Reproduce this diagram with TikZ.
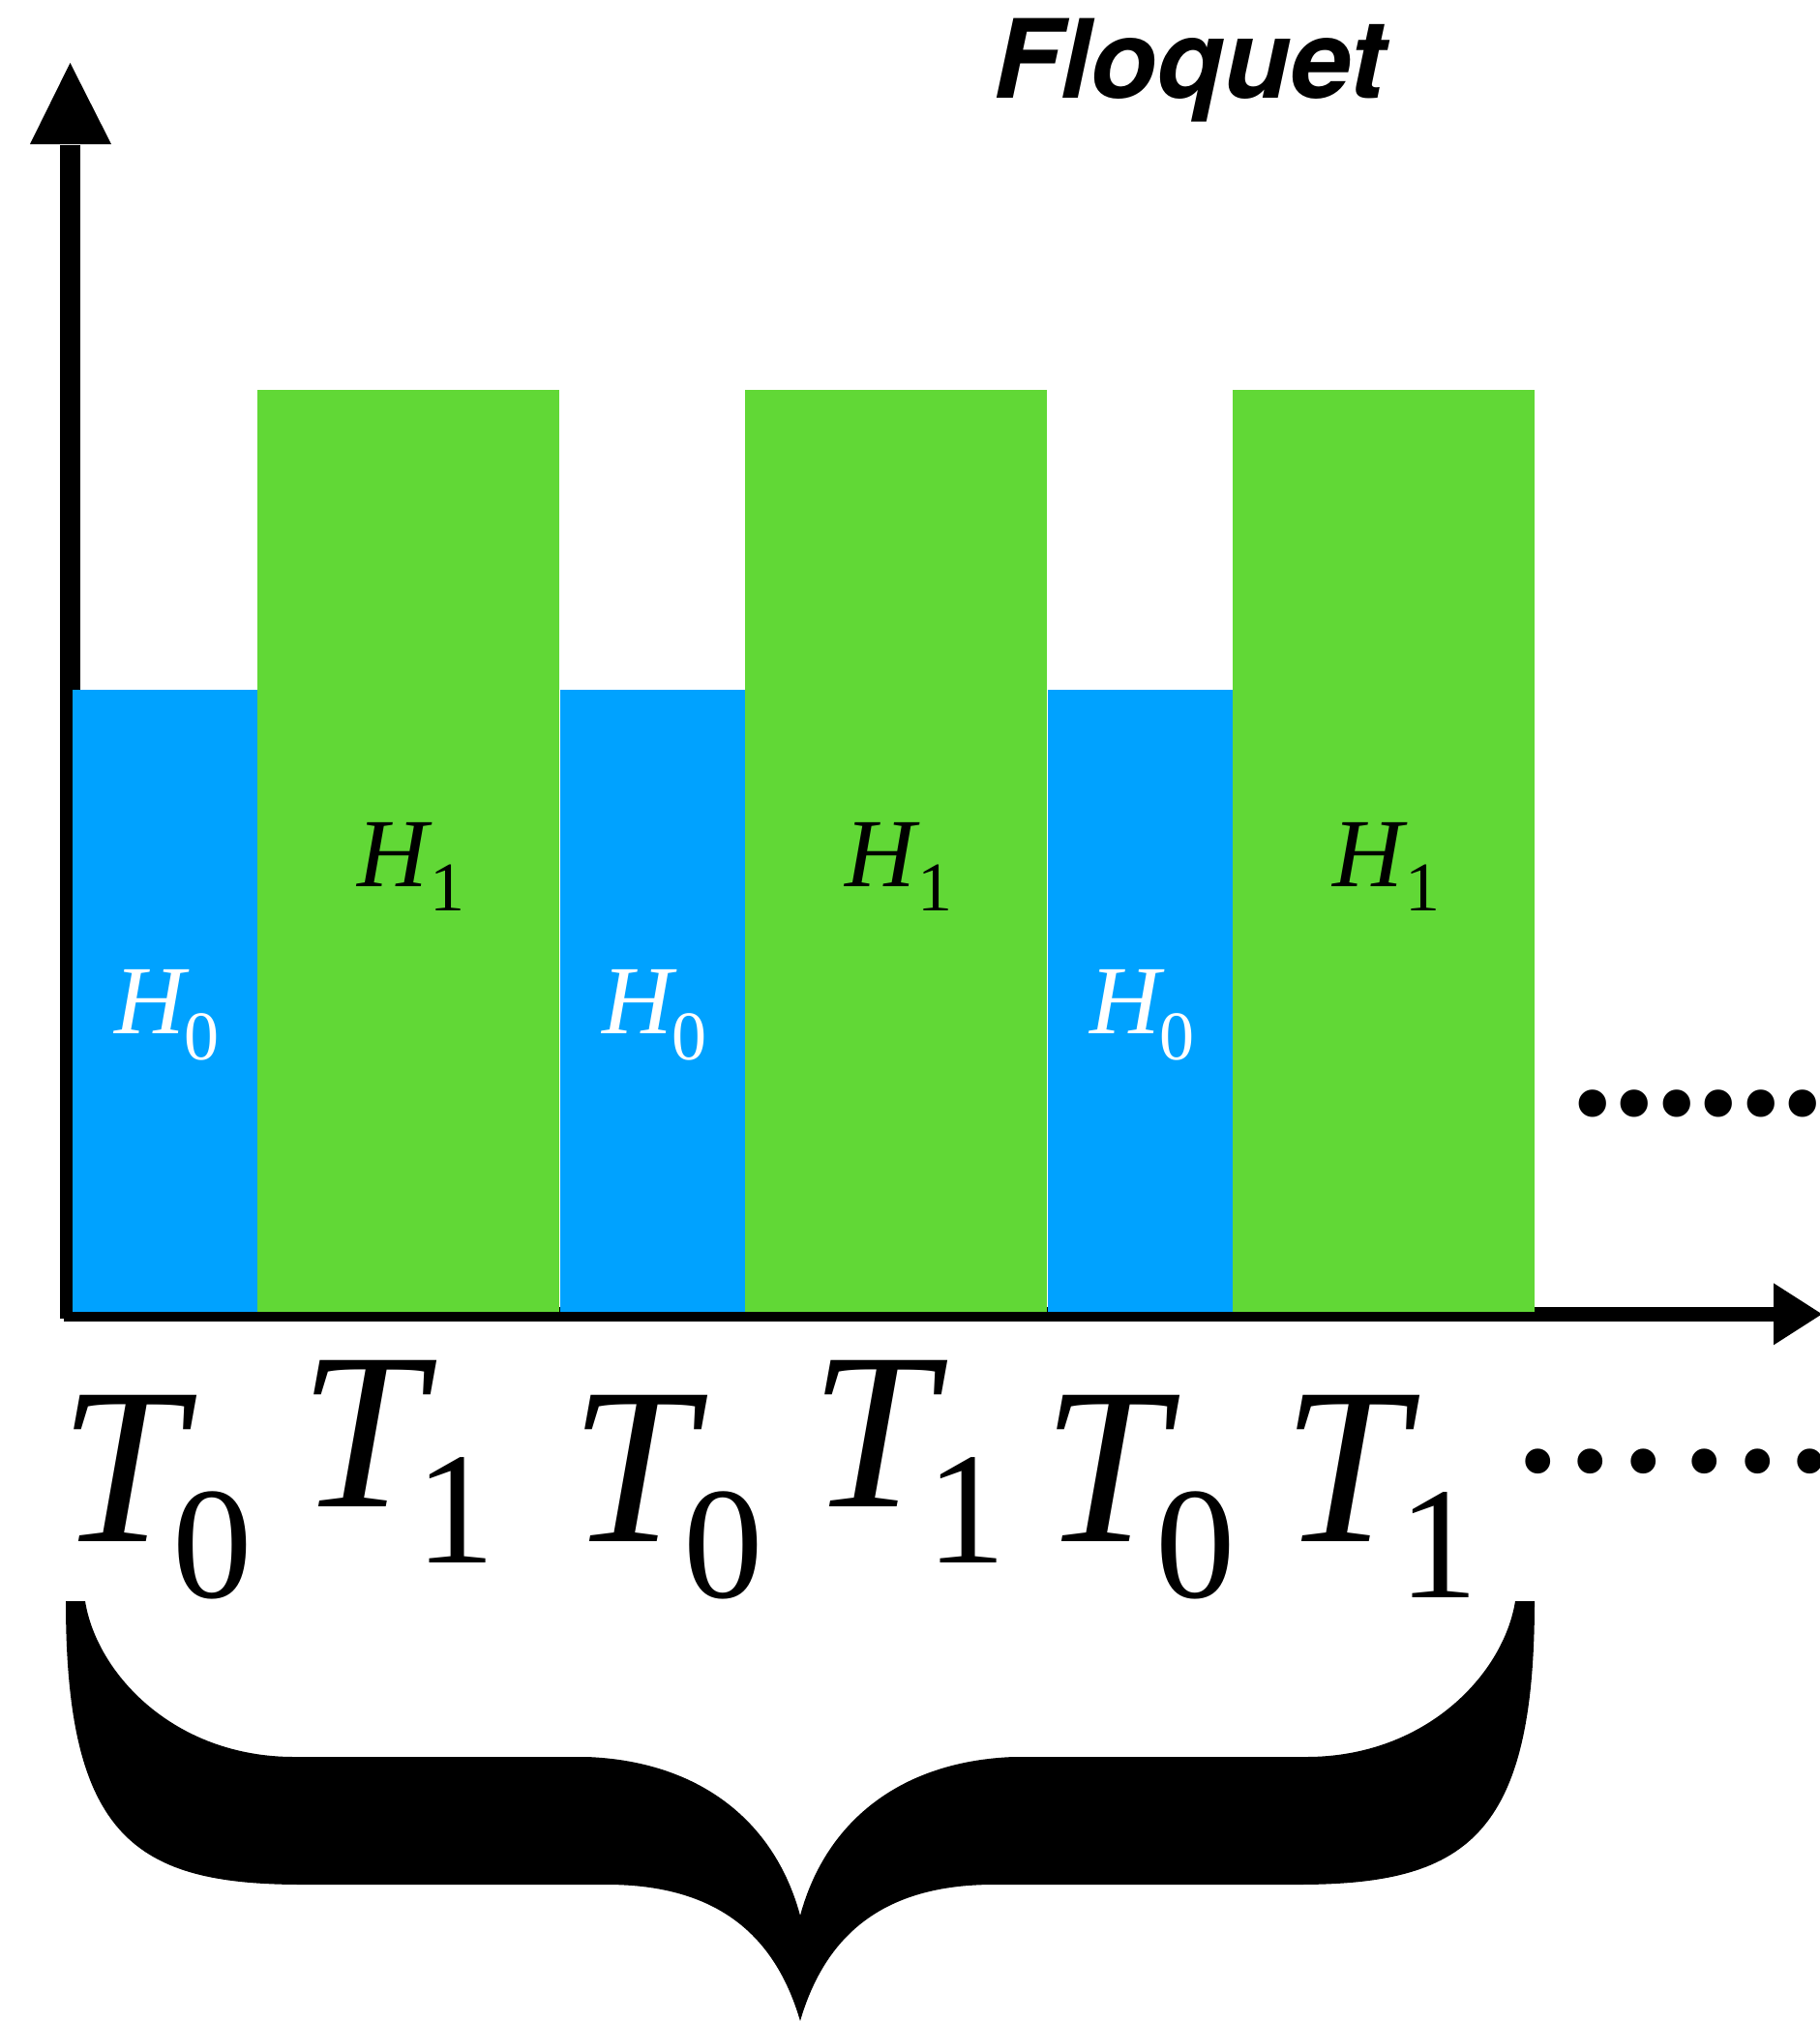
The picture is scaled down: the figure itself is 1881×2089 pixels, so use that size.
\documentclass[tikz,border=0pt]{standalone}
\usepackage{fontspec}
\setmainfont{Liberation Serif}
\newfontfamily\titlefont{TeX Gyre Heros}
\usetikzlibrary{calc}
\definecolor{hblue}{RGB}{0,162,255}
\definecolor{hgreen}{RGB}{97,216,54}
\tikzset{
  lab/.style={anchor=base west, inner sep=0pt, outer sep=0pt},
  tlab/.style={lab, font=\fontsize{231pt}{231pt}\selectfont},
  hlab/.style={lab, font=\fontsize{101pt}{101pt}\selectfont},
  axisline/.style={draw=black, line cap=butt},
}
\newcommand\Tsub[2]{\textit{T}\kern#2\raisebox{-58pt}{\fontsize{165pt}{165pt}\selectfont #1}}
\newcommand\Hsub[3]{\textit{H}\kern#2\raisebox{-#3}{\fontsize{72pt}{72pt}\selectfont #1}}
\begin{document}
\begin{tikzpicture}[x=1pt,y=-1pt]
\useasboundingbox (0,0) rectangle (1881,2089);
% axes
\coordinate (o) at (72.5,1363);
\coordinate (ybase) at (72.5,149);
\coordinate (ytip) at (72.5,65);
\coordinate (xo) at (66,1358.3);
\coordinate (xbase) at (1833,1358.3);
\coordinate (xtip) at (1883,1358.3);
\draw[axisline, line width=21pt] (o) -- ([yshift=-1pt]ybase);
\fill ($(ybase)+(-41.5,0)$) -- (ytip) -- ($(ybase)+(42.5,0)$) -- cycle;
\draw[axisline, line width=15.3pt] (xo) -- ([xshift=1pt]xbase);
\fill ($(xbase)+(0,-32)$) -- (xtip) -- ($(xbase)+(0,32)$) -- cycle;
% bars
\foreach \i in {0,1,2}{
  \fill[hblue] (75+504*\i,713) rectangle (266+504*\i,1356);
  \fill[hgreen] (266+504*\i,403) rectangle (578+504*\i,1356);
  \node[hlab, text=white] (hz\i) at (118+504*\i,1068) {\Hsub{0}{-5pt}{27pt}};
  \node[hlab, text=black] (ho\i) at (369+504*\i,916) {\Hsub{1}{-2pt}{25pt}};
}
% title
\node[lab, font=\titlefont\bfseries\itshape\fontsize{113pt}{113pt}\selectfont] (title) at (1026,101) {Floquet};
% dots
\node[lab, font=\bfseries\fontsize{174pt}{174pt}\selectfont] (dotsA) at (1624,1152.5) {......};
\node[lab, font=\fontsize{218pt}{218pt}\selectfont] (dotsB) at (1562,1520) {...\kern9.5pt...};
% T labels
\node[tlab] (ta) at (61.4,1593) {\Tsub{0}{-25pt}};
\node[tlab] (tb) at (309.4,1557) {\Tsub{1}{-22pt}};
\node[tlab] (tc) at (589.4,1593) {\Tsub{0}{-25pt}};
\node[tlab] (td) at (837.4,1557) {\Tsub{1}{-22pt}};
\node[tlab] (te) at (1077.4,1593) {\Tsub{0}{-25pt}};
\node[tlab] (tf) at (1325.4,1593) {\Tsub{1}{-22pt}};
% brace
\fill (68,1655) .. controls (68,1900) and (140,1948) .. (313,1948) -- (627,1948)
  .. controls (741,1948) and (801,2000) .. (827,2089)
  .. controls (853,2000) and (913,1948) .. (1027,1948) -- (1341,1948)
  .. controls (1514,1948) and (1586,1900) .. (1586,1655) -- (1566,1655)
  .. controls (1554,1730) and (1474,1816) .. (1350,1816) -- (1048,1816)
  .. controls (934,1820) and (854,1880) .. (827,1980)
  .. controls (800,1880) and (720,1820) .. (606,1816) -- (304,1816)
  .. controls (180,1816) and (100,1730) .. (88,1655) -- cycle;
\end{tikzpicture}
\end{document}
